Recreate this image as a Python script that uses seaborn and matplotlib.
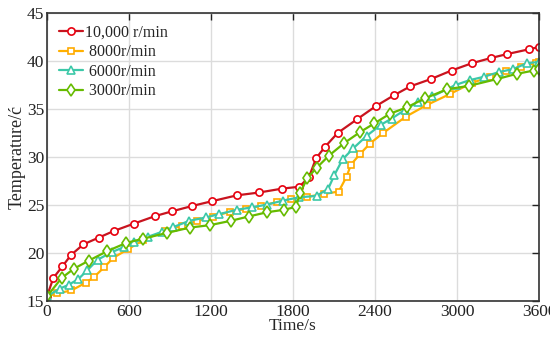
import matplotlib
matplotlib.use("Agg")
import matplotlib.pyplot as plt
import seaborn as sns

# -----------------------------
# Data
# -----------------------------

t_10000 = [0, 46, 112, 176, 266, 378, 490, 634, 792, 917, 1063, 1209, 1388, 1553,
           1719, 1846, 1917, 1968, 2034, 2127, 2266, 2407, 2536, 2658, 2807, 2960,
           3107, 3248, 3363, 3524, 3600]
T_10000 = [15.5, 17.4, 18.6, 19.8, 20.9, 21.6, 22.3, 23.05, 23.85, 24.35, 24.9, 25.4,
           26.0, 26.3, 26.7, 26.9, 27.9, 29.85, 31.05, 32.5, 33.9, 35.3, 36.4, 37.35,
           38.1, 39.0, 39.75, 40.3, 40.7, 41.2, 41.45]

t_8000 = [0, 75, 178, 283, 344, 417, 485, 593, 704, 863, 990, 1100, 1217, 1339, 1456,
          1566, 1680, 1783, 1904, 2029, 2134, 2192, 2224, 2290, 2363, 2460, 2626, 2778,
          2948, 3107, 3241, 3356, 3467, 3575, 3600]
T_8000 = [15.5, 15.8, 16.1, 16.9, 17.5, 18.5, 19.5, 20.4, 21.35, 22.3, 22.85, 23.35,
          23.8, 24.3, 24.6, 24.9, 25.3, 25.6, 25.85, 26.15, 26.4, 27.95, 29.2, 30.3,
          31.4, 32.5, 34.2, 35.4, 36.55, 37.7, 38.35, 38.95, 39.4, 39.8, 39.9]

t_6000 = [0, 95, 160, 230, 295, 370, 475, 560, 636, 740, 840, 924, 1041, 1161, 1260,
          1388, 1497, 1612, 1724, 1846, 1973, 2058, 2102, 2163, 2241, 2339, 2443, 2522,
          2619, 2716, 2819, 2990, 3094, 3197, 3309, 3411, 3509, 3600]
T_6000 = [15.5, 16.3, 16.7, 17.3, 18.2, 19.3, 20.1, 20.6, 21.1, 21.7, 22.2, 22.7,
          23.35, 23.7, 24.05, 24.5, 24.75, 25.05, 25.45, 25.8, 25.95, 26.7, 28.1, 29.75,
          30.9, 32.2, 33.35, 34.0, 34.9, 35.75, 36.3, 37.5, 38.0, 38.35, 38.85, 39.15,
          39.75, 39.9]

t_3000 = [0, 107, 195, 305, 441, 580, 705, 880, 1046, 1192, 1344, 1475, 1612, 1734,
          1821, 1851, 1904, 1975, 2064, 2175, 2292, 2396, 2509, 2631, 2765, 2928, 3087,
          3290, 3436, 3563, 3600]
T_3000 = [15.5, 17.4, 18.35, 19.2, 20.2, 21.05, 21.5, 22.1, 22.65, 22.9, 23.35, 23.8,
          24.25, 24.5, 24.8, 26.2, 27.8, 28.9, 30.15, 31.45, 32.6, 33.5, 34.5, 35.15,
          36.1, 37.05, 37.4, 38.1, 38.65, 39.0, 39.2]

labels = ["10,000 r/min", " 8000r/min", " 6000r/min", " 3000r/min"]
x_ticks = [0, 600, 1200, 1800, 2400, 3000, 3600]
y_ticks = [15, 20, 25, 30, 35, 40, 45]

# -----------------------------
# Plot
# -----------------------------

sns.set_style("white")
plt.rcParams["font.family"] = ["Liberation Serif", "DejaVu Serif"]

fig, ax = plt.subplots(figsize=(5.5, 3.39), dpi=100)
fig.subplots_adjust(left=0.0855, right=0.98, bottom=0.112, top=0.962)

series = [
    (t_10000, T_10000, "#c8141f", "#e8000f", "o", 5.2),
    (t_8000, T_8000, "#ffb000", "#ffaa00", "s", 4.8),
    (t_6000, T_6000, "#3cc8a8", "#3cc8a8", "^", 5.2),
    (t_3000, T_3000, "#66bb00", "#66bb00", "d", 6.2),
]

for (x, y, lc, mc, m, ms), lab in zip(series, labels):
    sns.lineplot(
        x=x, y=y, ax=ax, color=lc, linewidth=1.6, marker=m, markersize=ms,
        markerfacecolor="white", markeredgecolor=mc, markeredgewidth=1.2,
        label=lab, sort=False, errorbar=None
    )

ax.set_xlim(0, 3600)
ax.set_ylim(15, 45)
ax.set_xticks(x_ticks)
ax.set_yticks(y_ticks)
ax.grid(True, color="#dcdcdc", linewidth=1.0)
ax.set_axisbelow(True)
ax.tick_params(direction="in", length=5, width=1, top=True, right=True,
               labelsize=12.5, colors="#222222", pad=2)
for s in ax.spines.values():
    s.set_color("#333333")
    s.set_linewidth(1.2)

ax.set_xlabel("Time/s", fontsize=12.5, labelpad=-1)
ax.set_ylabel("Temperature/ć", fontsize=13, labelpad=1)

ax.legend(loc="upper left", frameon=False, fontsize=11.5, handlelength=1.5,
          handletextpad=0.1, labelspacing=0.22, borderaxespad=0.35,
          bbox_to_anchor=(0.0, 1.0))

plt.savefig("out.png", dpi=100)
plt.close()
